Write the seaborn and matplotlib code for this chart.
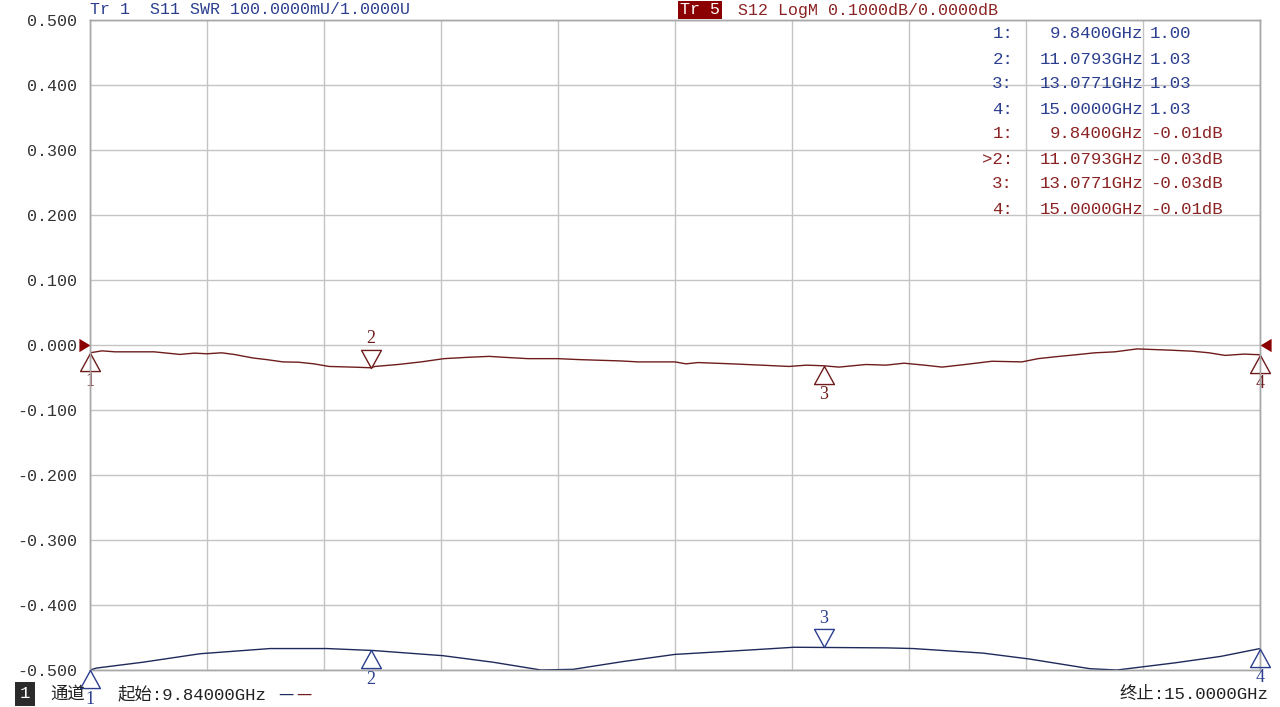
import numpy as np
import pandas as pd
import matplotlib
matplotlib.use("Agg")
import matplotlib.pyplot as plt
from matplotlib.path import Path
import seaborn as sns

# ---------------------------------------------------------------
# DATA
# ---------------------------------------------------------------
f_start, f_stop = 9.84, 15.0

# Tr 1 : S11 SWR
s11_freq = [9.840, 9.869, 10.074, 10.325, 10.634, 10.885, 11.088, 11.397, 11.617,
            11.829, 11.970, 12.191, 12.420, 12.760, 12.945, 13.355, 13.470, 13.778,
            13.981, 14.250, 14.369, 14.625, 14.828, 15.000]
s11_swr = [1.000, 1.003, 1.012, 1.025, 1.033, 1.033, 1.030, 1.022, 1.012,
           1.000, 1.001, 1.013, 1.024, 1.031, 1.035, 1.034, 1.033, 1.026,
           1.017, 1.002, 1.000, 1.011, 1.021, 1.033]

# Tr 5 : S12 LogM (dB)
s12_freq = [9.840, 9.893, 9.950, 10.003, 10.122, 10.180, 10.237, 10.300, 10.356,
            10.420, 10.475, 10.559, 10.620, 10.691, 10.760, 10.828, 10.894, 10.996,
            11.079, 11.097, 11.198, 11.300, 11.401, 11.503, 11.600, 11.670, 11.772,
            11.904, 12.000, 12.089, 12.180, 12.257, 12.420, 12.469, 12.521, 12.671,
            12.800, 12.923, 13.000, 13.077, 13.143, 13.262, 13.350, 13.430, 13.520,
            13.598, 13.699, 13.818, 13.950, 14.021, 14.100, 14.189, 14.272, 14.360,
            14.458, 14.608, 14.700, 14.775, 14.846, 14.930, 15.000]
s12_db = [-0.012, -0.009, -0.0105, -0.0105, -0.0105, -0.0125, -0.0145, -0.0125,
          -0.0135, -0.012, -0.0145, -0.020, -0.0225, -0.026, -0.0265, -0.029, -0.033,
          -0.034, -0.035, -0.033, -0.030, -0.026, -0.021, -0.019, -0.0175, -0.019,
          -0.021, -0.021, -0.0225, -0.0235, -0.0245, -0.026, -0.026, -0.029, -0.027,
          -0.029, -0.031, -0.033, -0.031, -0.032, -0.034, -0.030, -0.031, -0.028,
          -0.031, -0.034, -0.030, -0.025, -0.026, -0.021, -0.018, -0.015, -0.012,
          -0.0105, -0.006, -0.008, -0.0095, -0.012, -0.016, -0.014, -0.015]

marker_ids = ["1", "2", "3", "4"]
marker_freq = [9.8400, 11.0793, 13.0771, 15.0000]
s11_marker_txt = ["1.00", "1.03", "1.03", "1.03"]
s12_marker_txt = ["-0.01dB", "-0.03dB", "-0.03dB", "-0.01dB"]
# marker glyph side: 'up' = triangle below trace, 'down' = triangle above trace
s11_marker_side = ["up", "up", "down", "up"]
s12_marker_side = ["up", "down", "up", "up"]

y_ticks = [0.5, 0.4, 0.3, 0.2, 0.1, 0.0, -0.1, -0.2, -0.3, -0.4, -0.5]

BLUE = "#2c3f8f"
BLUE_TRACE = "#1f2a5c"
RED = "#8b2323"
RED_TRACE = "#6e1c1c"
GRID = "#c4c4c4"

# ---------------------------------------------------------------
# STYLE
# ---------------------------------------------------------------
sns.set_theme(style="white")
plt.rcParams["font.family"] = ["Liberation Mono", "Noto Sans CJK SC", "DejaVu Sans"]

fig = plt.figure(figsize=(12.8, 7.07), dpi=100)
ax = fig.add_axes([90 / 1280, 1 - 670 / 707, 1170 / 1280, 650 / 707])
ax2 = ax.twinx()

df12 = pd.DataFrame({"freq": s12_freq, "db": s12_db})
df11 = pd.DataFrame({"freq": s11_freq, "swr": s11_swr})

sns.lineplot(data=df12, x="freq", y="db", ax=ax, color=RED_TRACE, lw=1.0,
             estimator=None, sort=False)
sns.lineplot(data=df11, x="freq", y="swr", ax=ax2, color=BLUE_TRACE, lw=1.0,
             estimator=None, sort=False)

ax.set_xlim(f_start, f_stop)
ax.set_ylim(-0.5, 0.5)
ax2.set_ylim(1.0, 2.0)   # 100 mU/div, ref 1.0000U at the bottom line
ax2.set_xlim(f_start, f_stop)

ax.set_xticks(np.linspace(f_start, f_stop, 11))
ax.set_xticklabels([])
ax.set_yticks(y_ticks)
ax.set_yticklabels([f"{v:.3f}" for v in y_ticks], fontsize=12, color="#333333")
ax.tick_params(axis="y", length=0, pad=9.5)
ax.tick_params(axis="x", length=0)
ax.grid(True, color=GRID, lw=1.0)
ax.set_xlabel("")
ax.set_ylabel("")
ax2.set_ylabel("")
ax2.set_yticks([])
for a in (ax, ax2):
    for sp in a.spines.values():
        sp.set_color("#a8a8a8")
        sp.set_linewidth(1.0)

# ---------------------------------------------------------------
# MARKERS
# ---------------------------------------------------------------
tri_up = Path([(0, 0), (-0.55, -1), (0.55, -1), (0, 0)],
              [Path.MOVETO, Path.LINETO, Path.LINETO, Path.CLOSEPOLY])
tri_down = Path([(0, 0), (-0.55, 1), (0.55, 1), (0, 0)],
                [Path.MOVETO, Path.LINETO, Path.LINETO, Path.CLOSEPOLY])


def draw_markers(axis, fx, fy, sides, color):
    for mid, f, side in zip(marker_ids, marker_freq, sides):
        yv = np.interp(f, fx, fy)
        path = tri_up if side == "up" else tri_down
        axis.plot([f], [yv], marker=path, ms=26, mfc="none", mec=color, mew=1.0,
                  ls="none", clip_on=False, zorder=5)
        dy = -21 if side == "up" else 21
        axis.annotate(mid, (f, yv), xytext=(0, dy), textcoords="offset points",
                      ha="center", va="center", fontsize=13, color=color,
                      family="Liberation Serif", annotation_clip=False, zorder=6)


draw_markers(ax, s12_freq, s12_db, s12_marker_side, RED_TRACE)
draw_markers(ax2, s11_freq, s11_swr, s11_marker_side, BLUE)

# reference level arrows for Tr 5
ref_right = Path([(0, 0), (-1, 0.6), (-1, -0.6), (0, 0)],
                 [Path.MOVETO, Path.LINETO, Path.LINETO, Path.CLOSEPOLY])
ref_left = Path([(0, 0), (1, 0.6), (1, -0.6), (0, 0)],
                [Path.MOVETO, Path.LINETO, Path.LINETO, Path.CLOSEPOLY])
ax.plot([f_start], [0.0], marker=ref_right, ms=16, color="#8b0000", mew=0,
        ls="none", clip_on=False, zorder=6)
ax.plot([f_stop], [0.0], marker=ref_left, ms=16, color="#8b0000", mew=0,
        ls="none", clip_on=False, zorder=6)

# ---------------------------------------------------------------
# TEXT: headers, marker table, footer
# ---------------------------------------------------------------
W, H = 1280, 707


def px(x, y):
    return x / W, 1 - y / H


fig.text(*px(90, 10), "Tr 1  S11 SWR 100.0000mU/1.0000U", color=BLUE,
         fontsize=12, ha="left", va="center")
fig.text(*px(680, 10), "Tr 5", color="white", fontsize=12, ha="left", va="center",
         bbox=dict(boxstyle="square,pad=0.1", fc="#8b0000", ec="none"))
fig.text(*px(738, 10), "S12 LogM 0.1000dB/0.0000dB", color=RED,
         fontsize=12, ha="left", va="center")

rows = ([(m, f, v, BLUE) for m, f, v in zip(marker_ids, marker_freq, s11_marker_txt)] +
        [(m, f, v, RED) for m, f, v in zip(marker_ids, marker_freq, s12_marker_txt)])
for i, (m, f, v, c) in enumerate(rows):
    y = 34 + 25 * i
    lab = f"{m}:"
    if c == RED and m == "2":
        lab = ">2:"
    fig.text(*px(1013, y), lab, color=c, fontsize=12.5, ha="right", va="center")
    fig.text(*px(1143, y), f"{f:.4f}GHz", color=c, fontsize=12.5, ha="right", va="center")
    fig.text(*px(1150, y), v, color=c, fontsize=12.5, ha="left", va="center")

# the "1" after 通道 on the instrument sits under marker 1's label
fig.text(*px(25, 694), "1", color="white", fontsize=12.5, ha="center", va="center",
         bbox=dict(boxstyle="square,pad=0.25", fc="#2b2b2b", ec="none"))
fig.text(*px(50, 694), "通道", color="#222222", fontsize=12.5, ha="left", va="center")
fig.text(*px(118, 694), "起始:9.84000GHz", color="#222222", fontsize=12.5,
         ha="left", va="center")
fig.text(*px(278, 694), "—", color=BLUE_TRACE, fontsize=11, ha="left", va="center",
         family="DejaVu Sans")
fig.text(*px(296, 694), "—", color=RED_TRACE, fontsize=11, ha="left", va="center",
         family="DejaVu Sans")
fig.text(*px(1268, 694), "终止:15.0000GHz", color="#222222", fontsize=12.5,
         ha="right", va="center")

fig.savefig("out.png", dpi=100, facecolor="white")
